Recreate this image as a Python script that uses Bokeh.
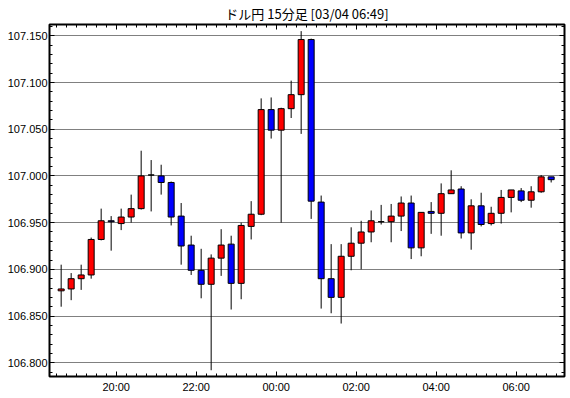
from bokeh.plotting import figure
from bokeh.models import (Range1d, LinearAxis, SingleIntervalTicker, NumeralTickFormatter,
                          ColumnDataSource, Grid, CustomJSTickFormatter)
from bokeh.embed import file_html
from bokeh.resources import INLINE

# ---- data -------------------------------------------------------------
title_text = "ドル円 15分足 [03/04 06:49]"

times = ["18:30", "18:45", "19:00", "19:15", "19:30", "19:45", "20:00", "20:15",
         "20:30", "20:45", "21:00", "21:15", "21:30", "21:45", "22:00", "22:15",
         "22:30", "22:45", "23:00", "23:15", "23:30", "23:45", "00:00", "00:15",
         "00:30", "00:45", "01:00", "01:15", "01:30", "01:45", "02:00", "02:15",
         "02:30", "02:45", "03:00", "03:15", "03:30", "03:45", "04:00", "04:15",
         "04:30", "04:45", "05:00", "05:15", "05:30", "05:45", "06:00", "06:15",
         "06:30", "06:45"]

opens = [106.877, 106.879, 106.890, 106.894, 106.932, 106.952, 106.949, 106.956,
         106.965, 107.001, 107.000, 106.993, 106.957, 106.926, 106.899, 106.884,
         106.912, 106.927, 106.885, 106.946, 106.959, 107.071, 107.049, 107.072,
         107.087, 107.146, 106.972, 106.890, 106.870, 106.914, 106.928, 106.940,
         106.951, 106.951, 106.957, 106.971, 106.923, 106.962, 106.960, 106.981,
         106.986, 106.939, 106.968, 106.949, 106.960, 106.977, 106.984, 106.974,
         106.983, 106.999]
highs = [106.905, 106.896, 106.905, 106.934, 106.965, 106.957, 106.965, 106.980,
         107.027, 107.017, 107.012, 106.994, 106.971, 106.936, 106.922, 106.916,
         106.943, 106.936, 106.950, 106.973, 107.083, 107.084, 107.073, 107.102,
         107.155, 107.147, 106.979, 106.927, 106.927, 106.945, 106.952, 106.963,
         106.969, 106.970, 106.978, 106.979, 106.961, 106.972, 106.992, 107.006,
         106.989, 106.975, 106.982, 106.967, 106.985, 106.985, 106.987, 106.989,
         107.001, 106.999]
lows = [106.860, 106.867, 106.878, 106.890, 106.931, 106.920, 106.942, 106.950,
        106.964, 106.962, 106.980, 106.947, 106.905, 106.894, 106.869, 106.792,
        106.893, 106.857, 106.868, 106.932, 106.958, 107.040, 106.950, 107.062,
        107.045, 106.954, 106.858, 106.853, 106.842, 106.899, 106.900, 106.929,
        106.948, 106.929, 106.941, 106.911, 106.914, 106.938, 106.936, 106.981,
        106.933, 106.921, 106.946, 106.947, 106.949, 106.961, 106.972, 106.966,
        106.982, 106.993]
closes = [106.879, 106.890, 106.894, 106.932, 106.952, 106.951, 106.956, 106.965,
          107.000, 107.001, 106.993, 106.956, 106.925, 106.899, 106.884, 106.912,
          106.926, 106.885, 106.947, 106.959, 107.071, 107.049, 107.072, 107.087,
          107.146, 106.973, 106.890, 106.870, 106.914, 106.928, 106.940, 106.952,
          106.951, 106.957, 106.971, 106.923, 106.961, 106.960, 106.981, 106.985,
          106.939, 106.968, 106.948, 106.960, 106.977, 106.985, 106.974, 106.983,
          106.999, 106.996]

x_tick_hours = [20, 22, 24, 26, 28, 30]
x_tick_labels = ["20:00", "22:00", "00:00", "02:00", "04:00", "06:00"]

# ---- derived -----------------------------------------------------------
def to_hours(t):
    hh, mm = t.split(":")
    h = int(hh) + int(mm) / 60.0
    if h < 12:
        h += 24
    return h + 0.125  # centre of the 15-minute bar

xs = [to_hours(t) for t in times]
tops = [max(o, c) for o, c in zip(opens, closes)]
bottoms = [min(o, c) for o, c in zip(opens, closes)]
colors = ["#ff0000" if c > o else ("#0000ff" if c < o else "#000000")
          for o, c in zip(opens, closes)]

src = ColumnDataSource(dict(x=xs, open=opens, high=highs, low=lows, close=closes,
                            top=tops, bottom=bottoms, color=colors))

# ---- figure ------------------------------------------------------------
p = figure(width=570, height=398, output_backend="svg", toolbar_location=None,
           x_range=Range1d(18 + 20 / 60, 31 + 12.5 / 60),
           y_range=Range1d(106.7853, 107.1621),
           x_axis_location=None, y_axis_location=None,
           min_border_left=49, min_border_right=6, min_border_top=24,
           min_border_bottom=22)
p.center = [r for r in p.center if not isinstance(r, Grid)]
p.background_fill_color = "white"
p.border_fill_color = "white"
p.outline_line_color = "black"
p.outline_line_width = 2
p.outline_line_alpha = 1.0

p.title.text = title_text
p.title.align = "center"
p.title.text_font = "Noto Sans CJK JP"
p.title.text_font_size = "13px"
p.title.text_font_style = "normal"
p.title.text_color = "black"
p.title.standoff = 3

yt = SingleIntervalTicker(interval=0.05, num_minor_ticks=5)
xt = SingleIntervalTicker(interval=2, num_minor_ticks=8)
blank = CustomJSTickFormatter(code="return '';")

def style_axis(ax, show_labels):
    ax.axis_label = None
    ax.axis_label_standoff = 0
    ax.axis_line_color = None
    ax.major_tick_in = 5
    ax.major_tick_out = 0
    ax.minor_tick_in = 3
    ax.minor_tick_out = 0
    ax.major_tick_line_color = "black"
    ax.minor_tick_line_color = "black"
    ax.major_label_standoff = 2 if show_labels else 0
    ax.major_label_text_font = "Liberation Sans"
    ax.major_label_text_font_size = "11px"
    ax.major_label_text_color = "black"
    ax.major_label_text_line_height = 1.0

left = LinearAxis(ticker=yt, formatter=NumeralTickFormatter(format="0.000"))
style_axis(left, True)
right = LinearAxis(ticker=yt, formatter=blank)
style_axis(right, False)
bottom = LinearAxis(ticker=xt,
                    major_label_overrides=dict(zip(x_tick_hours, x_tick_labels)))
style_axis(bottom, True)
bottom.major_label_standoff = 4
top = LinearAxis(ticker=xt, formatter=blank)
style_axis(top, False)

p.add_layout(left, "left")
p.add_layout(right, "right")
p.add_layout(bottom, "below")
p.add_layout(top, "above")

p.add_layout(Grid(dimension=1, ticker=yt, grid_line_color="black",
                  grid_line_dash="1 1", grid_line_width=1))

p.segment(x0="x", y0="low", x1="x", y1="high", source=src,
          line_color="black", line_width=1)
p.vbar(x="x", width=0.15, top="top", bottom="bottom", source=src,
       fill_color="color", line_color="black", line_width=1)

with open("out.html", "w", encoding="utf-8") as f:
    f.write(file_html(p, INLINE))
